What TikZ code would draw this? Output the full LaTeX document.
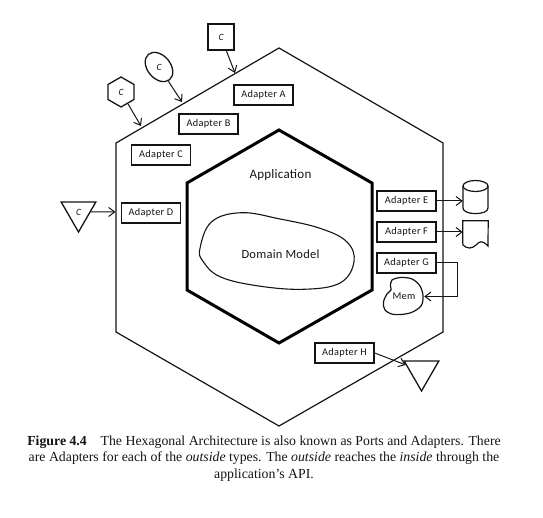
\documentclass[tikz,border=0pt]{standalone}
\usepackage{fontspec}
\setmainfont{Carlito}
\newfontfamily\capfont{Liberation Serif}
\usetikzlibrary{arrows.meta,shapes.geometric}
\definecolor{ink}{gray}{0.08}
\tikzset{
  x=1pt,y=-1pt,
  every node/.style={text=ink,font=\fontsize{10}{12}\selectfont},
  adapter/.style={draw=ink,line width=1.4pt,minimum width=59pt,minimum height=20pt,inner sep=0pt,font=\fontsize{10.3}{12}\selectfont\addfontfeature{LetterSpace=3}},
  actor/.style={draw=ink,line width=1.3pt,inner sep=0pt,font=\fontsize{9.5}{10}\selectfont\itshape},
  outerhex/.style={draw=ink,line width=1.2pt,line join=miter},
  innerhex/.style={draw=black,line width=3pt,line join=miter},
  blob/.style={draw=ink,line width=1.1pt},
  conn/.style={draw=ink,line width=1pt,-{Straight Barb[length=6pt,width=9pt,line width=1pt]}},
}
\begin{document}
\begin{tikzpicture}
\useasboundingbox (0,0) rectangle (543,518);
% hexagons
\draw[outerhex] (279,48) -- (443,143) -- (443,332) -- (279,426) -- (116,332) -- (116,143) -- cycle;
\draw[innerhex] (279,130) -- (372,183) -- (372,290) -- (279,343) -- (187,290) -- (187,183) -- cycle;
% domain
\draw[blob] plot[smooth cycle,tension=.65] coordinates {(200,248.3) (211.7,221.7) (241.7,212.7) (280,219) (320,228.3) (346.7,241.7) (354,261.7) (340,283) (303,289.3) (256.7,285.7) (220,276.7) (203.3,261.7)};
\node[font=\fontsize{13}{14}\selectfont\addfontfeature{LetterSpace=2}] (app) at (280.5,175.5) {Application};
\node[font=\fontsize{12.5}{14}\selectfont\addfontfeature{LetterSpace=2}] (dom) at (280.5,254.5) {Domain Model};
% adapters
\node[adapter] (adA) at (263.5,95) {Adapter A};
\node[adapter] (adB) at (208.5,124) {Adapter B};
\node[adapter] (adC) at (161,155) {Adapter C};
\node[adapter] (adD) at (151,213) {Adapter D};
\node[adapter] (adE) at (406.5,201) {Adapter E};
\node[adapter] (adF) at (406.5,232) {Adapter F};
\node[adapter] (adG) at (406.5,263) {Adapter G};
\node[adapter] (adH) at (344.5,353) {Adapter H};
% outside actors
\node[actor,minimum width=26pt,minimum height=26pt] (sq) at (221,37) {C};
\node[actor,ellipse,rotate=-50,minimum width=33pt,minimum height=23pt] (ell) at (159,67) {\rotatebox{50}{C}};
\node[actor,regular polygon,regular polygon sides=6,shape border rotate=30,minimum size=30pt] (hexa) at (121,92) {C};
\node[actor,regular polygon,regular polygon sides=3,shape border rotate=180,minimum size=40pt] (tri) at (78.5,212) {C};
\node[actor,regular polygon,regular polygon sides=3,shape border rotate=180,minimum size=40pt] (trih) at (421.5,371) {};
% cylinder
\node[inner sep=0pt,minimum width=25pt,minimum height=33pt] (cyl) at (475.5,197) {};
\draw[draw=ink,line width=1.2pt] (463,186) -- (463,208) .. controls (463,215.5) and (488,215.5) .. (488,208) -- (488,186);
\draw[draw=ink,line width=1.2pt] (475.5,186) ellipse [x radius=12.5pt,y radius=5.5pt];
% document
\node[inner sep=0pt,minimum width=25pt,minimum height=22pt] (doc) at (475.5,232) {};
\draw[draw=ink,line width=1.2pt] (doc.south west) -- (doc.north west) -- (doc.north east) -- (488,246)
  .. controls (482,240) and (480,241) .. (476,245) .. controls (472,249) and (467,249) .. (463,245) -- (doc.south west);
% memory blob
\draw[blob,line width=1.2pt] plot[smooth cycle,tension=.55] coordinates {(390.5,286) (392,280) (401,277.5) (412,279) (420,286) (423,296) (421,306) (410,313) (394,314.5) (385,310) (383.5,302) (387,294) (391,290)};
\node[font=\fontsize{10.3}{12}\selectfont\addfontfeature{LetterSpace=3},minimum width=40pt,minimum height=36pt,inner sep=0pt] (mem) at (404,296.5) {Mem};
% ports on the outer hexagon
\coordinate (pA) at (235,73);
\coordinate (pB) at (182,102);
\coordinate (pC) at (141,126);
\coordinate (pD) at (115.5,212);
% connectors
\draw[conn] (sq) -- (pA);
\draw[conn] (ell) -- (pB);
\draw[conn] (hexa) -- (pC);
\draw[conn] (tri) -- (pD);
\draw[conn] (adE.east) -- (cyl.west |- adE.east);
\draw[conn] (adF) -- (doc);
\draw[conn] (adG.east) -| (457,296.5) -- (mem.east);
\draw[conn] (adH.east) -- (trih);
% caption
\node[anchor=north,align=center,inner sep=0pt,font=\fontsize{13.8}{16.2}\selectfont\capfont] (cap) at (264,436)
 {{\bfseries Figure 4.4}\quad The Hexagonal Architecture is also known as Ports and Adapters. There\\
  are Adapters for each of the \emph{outside} types. The \emph{outside} reaches the \emph{inside} through the\\
  application’s API.};
\end{tikzpicture}
\end{document}
